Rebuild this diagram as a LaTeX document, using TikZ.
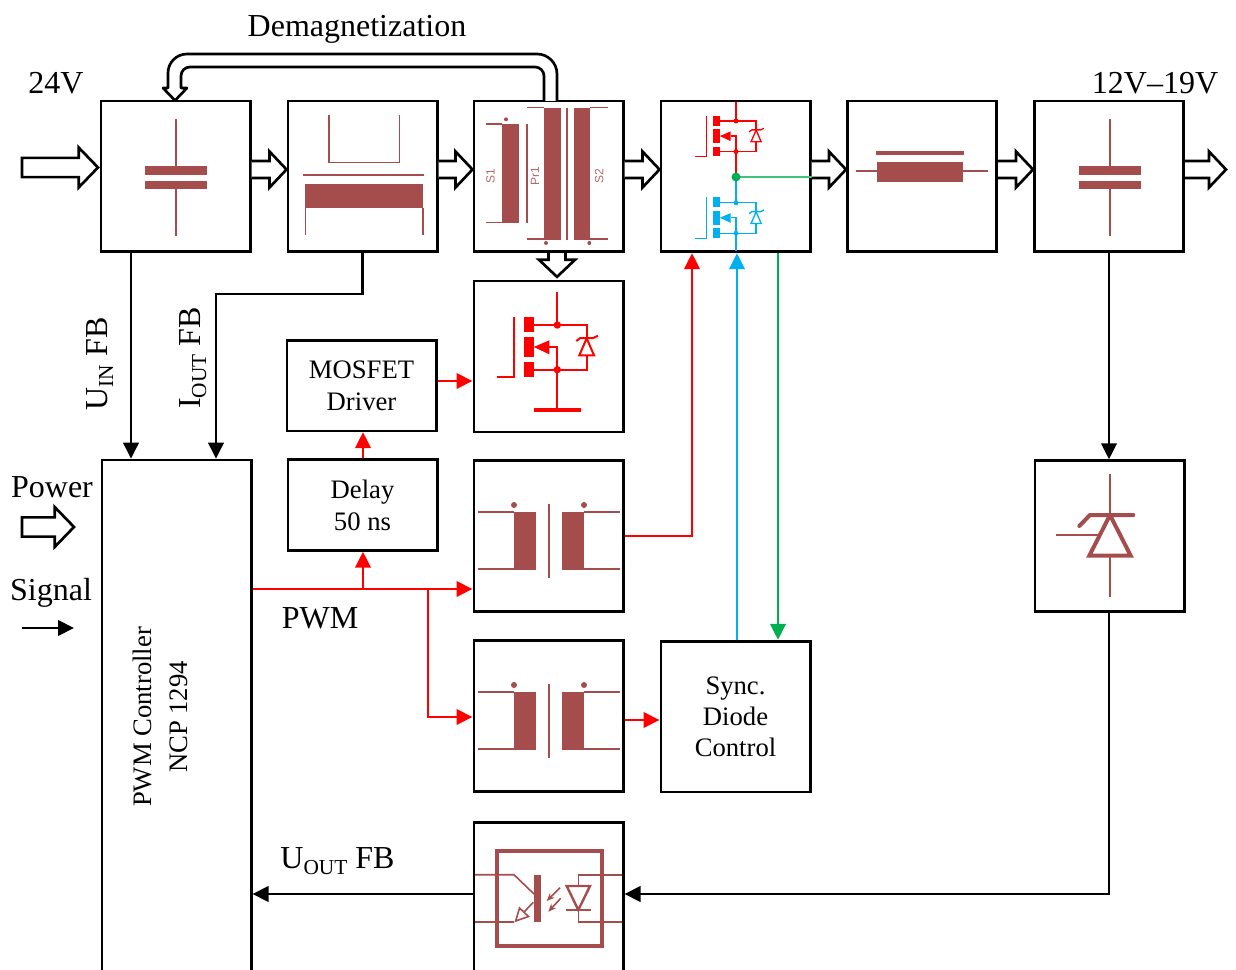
\documentclass[tikz,border=0pt]{standalone}
\usepackage{fontspec}
\setmainfont{Liberation Serif}
\newfontfamily\symfont{Liberation Sans}
\usetikzlibrary{arrows.meta,calc}
\definecolor{sym}{HTML}{A54D4D}
\definecolor{cblue}{HTML}{00B0F0}
\definecolor{cgreen}{HTML}{00B050}
\newcommand\sbs[1]{\raisebox{-0.17em}{\fontsize{16}{16}\selectfont #1}}
\tikzset{
  block/.style={draw=black,line width=2pt,minimum width=112pt,minimum height=113pt,inner sep=0pt,line join=miter},
  tblock/.style={block,minimum height=68pt,align=center,font=\fontsize{20}{24}\selectfont},
  lbl/.style={inner sep=0pt,font=\fontsize{24}{28}\selectfont},
  conn/.style={line width=2.2pt,-{Triangle[length=12pt,width=11.5pt]}},
  hollowline/.style={draw=black,fill=white,line width=2pt,line join=miter,miter limit=10},
  thin/.style={sym,line width=1.2pt},
  thick/.style={sym,line width=3pt},
  symtxt/.style={inner sep=0pt,text=sym!85,font=\fontsize{9}{9}\symfont,rotate=90},
}
% hollow arrow open at its start
\newcommand\hollowarrow[2]{%
  \coordinate (hs) at #1; \coordinate (ht) at #2;
  \coordinate (hb) at ($(ht)!12.75pt!(hs)$);
  \draw[hollowline] ($(hs)!6.4pt!90:(ht)$) -- ($(hb)!6.4pt!90:(ht)$) -- ($(hb)!13.5pt!90:(ht)$) -- (ht)
     -- ($(hb)!13.5pt!-90:(ht)$) -- ($(hb)!6.4pt!-90:(ht)$) -- ($(hs)!6.4pt!-90:(ht)$);
}
% hollow arrow closed at its start
\newcommand\hollowclosed[2]{%
  \coordinate (hs) at #1; \coordinate (ht) at #2;
  \coordinate (hb) at ($(ht)!14.5pt!(hs)$);
  \draw[hollowline] ($(hs)!7.2pt!90:(ht)$) -- ($(hb)!7.2pt!90:(ht)$) -- ($(hb)!15pt!90:(ht)$) -- (ht)
     -- ($(hb)!15pt!-90:(ht)$) -- ($(hb)!7.2pt!-90:(ht)$) -- ($(hs)!7.2pt!-90:(ht)$) -- cycle;
}
% x, y, scale, colour, line width
\newcommand\mosfetsym[5]{%
\begin{scope}[shift={(#1,#2)},scale=#3,color=#4,line width=#5]
  \draw (-60,52.3) -- (-43,52.3) -- (-43,-7.7);
  \fill (-33,-7.7) rectangle (-23.6,7);
  \fill (-33,11.7) rectangle (-23.6,32.3);
  \fill (-33,37.3) rectangle (-23.6,51.7);
  \draw (-23.6,0) -- (29.4,0) -- (29.4,13.3);
  \draw (-23.6,44.7) -- (29.4,44.7) -- (29.4,30.3);
  \fill (0,0) circle (3.7);
  \fill (0,44.7) circle (3.7);
  \fill (-23.6,22) -- (-8,15.3) -- (-8,29.3) -- cycle;
  \draw (-8,22) -- (0,22) -- (0,44.7);
  \draw (22,30.3) -- (36.7,30.3) -- (29.4,13.3) -- cycle;
  \draw (19,16) -- (23,13) -- (36,13) -- (40.7,10.7);
\end{scope}}
\newcommand\capsym[2]{%
  \draw[sym,line width=1.5pt] (#1,119) -- (#1,166) (#1,189) -- (#1,236);
  \fill[sym] ({#1-31},166) rectangle ({#1+31},175);
  \fill[sym] ({#1-31},181) rectangle ({#1+31},189.5);
}
\newcommand\pulsesym[1]{%
\begin{scope}[yshift=#1]
  \draw[thin] (477.7,512) -- (514,512) (477.7,569) -- (514,569);
  \draw[thin] (584,512) -- (620,512) (584,569) -- (620,569);
  \fill[sym] (514,512) rectangle (536,569.5);
  \fill[sym] (561.7,512) rectangle (584,569.5);
  \fill[sym] (514,505) circle (3);
  \fill[sym] (584,505) circle (3);
  \draw[sym,line width=1.6pt] (549,504) -- (549,577.7);
\end{scope}}
\begin{document}
\begin{tikzpicture}[x=0.75pt,y=-0.75pt]
\path[use as bounding box,clip] (0,0) rectangle (1236,970);

% blocks
\node[block] (capin)  at (175.5,176.5) {};
\node[block] (filter) at (362.5,176.5) {};
\node[block] (xfmr)   at (548.5,176.5) {};
\node[block] (mos)    at (735.5,176.5) {};
\node[block] (ind)    at (922,176.5) {};
\node[block] (capout) at (1109,176.5) {};
\node[block] (redmos) at (548.5,356.5) {};
\node[tblock,minimum width=112pt] (driver) at (361.5,385.5) {MOSFET\\Driver};
\node[tblock,minimum width=112pt] (delay) at (362.5,505) {Delay\\50 ns};
\node[block] (pulseA) at (548.5,536) {};
\node[block] (pulseB) at (548.5,716) {};
\node[block,align=center,font=\fontsize{20}{23.2}\selectfont] (sync) at (735.5,716.5) {Sync.\\Diode\\Control};
\node[block] (scr)    at (1109.5,536) {};
\node[block,minimum height=118pt] (opto) at (548.5,901) {};
\node[block,minimum height=385.5pt] (pwm) at (176.5,717) {};
\node[inner sep=0pt,rotate=90,align=center,font=\fontsize{20}{26.5}\selectfont] (pwmtxt) at ($(pwm.center)+(-16,0)$) {PWM Controller\\NCP 1294};

% symbols
\capsym{175.5}{}
\capsym{1110}{}
% filter
\draw[thin] (328.7,115) -- (328.7,162.7) -- (399.3,162.7) -- (399.3,115);
\draw[sym,line width=1.5pt] (303.3,174.7) -- (424.3,174.7);
\fill[sym] (305,184.3) rectangle (423.3,208.3);
\draw[thin] (305.3,208) -- (305.3,235) (422.7,208) -- (422.7,235);
% transformer
\fill[sym] (502.3,124.3) rectangle (518.7,223.3);
\fill[sym] (544.3,107.7) rectangle (561,240);
\fill[sym] (574,107.7) rectangle (590.3,240);
\draw[thin] (486,124.3) -- (502.3,124.3) (486,222.7) -- (502.3,222.7);
\draw[thin] (526.7,124.3) -- (526.7,223.3);
\draw[thin] (527,107.7) -- (544.3,107.7) (527,239.3) -- (544.3,239.3);
\draw[thin] (566.7,107.7) -- (566.7,240);
\draw[thin] (590.3,107.7) -- (607.7,107.7) (590.3,239.3) -- (607.7,239.3);
\fill[sym] (506,119.3) circle (2);
\fill[sym] (546,243) circle (2);
\fill[sym] (589.3,243) circle (2);
\node[symtxt] (ts1) at (490.5,175.7) {S1};
\node[symtxt] (tpr) at (535,175.7) {Pr1};
\node[symtxt] (ts2) at (599.3,175.7) {S2};
% half bridge
\mosfetsym{736}{121}{0.685}{red}{1pt}
\mosfetsym{736}{202.7}{0.685}{cblue}{1pt}
\draw[red,line width=1pt] (736,102) -- (736,121) (736,151.7) -- (736,177);
\draw[cblue,line width=1pt] (736,177) -- (736,202.7) (736,233.4) -- (736,251);
\draw[cgreen!75,line width=1pt] (736,177) -- (mos.east |- 736,177);
\fill[cgreen] (736,177) circle (4.5);
% inductor
\draw[thick] (876,152.7) -- (964,152.7);
\fill[sym] (877.3,161.7) rectangle (963.3,181.7);
\draw[thin] (855.7,171) -- (988.3,171);
% big mosfet
\mosfetsym{557.3}{325}{1}{red}{1.5pt}
\draw[red,line width=1.5pt] (557.3,291.7) -- (557.3,325) (557.3,369.7) -- (557.3,410);
\draw[red,line width=3pt] (534,410) -- (581,410);
% pulse transformers
\pulsesym{0pt}
\pulsesym{-135pt}
% scr
\draw[thin,line width=1.6pt] (1110,474.3) -- (1110,515) (1110,555.7) -- (1110,596.7) (1055.7,535.3) -- (1098.3,535.3);
\draw[sym,line width=3pt,line join=miter] (1110,515) -- (1130.7,555.7) -- (1089.3,555.7) -- cycle;
\draw[sym,line width=3pt,line cap=round] (1079.3,526) -- (1090,515) -- (1133.3,515);
% opto
\draw[sym,line width=3pt] (496.7,850.7) rectangle (601.7,946);
\draw[thin] (475,874.7) -- (514,874.7) -- (534,894);
\draw[thin] (475,922) -- (514,922);
\fill[sym] (534,874.7) rectangle (541,922);
\draw[thin] (533.3,902.3) -- (524,912);
\draw[thin,fill=white] (515.7,921) -- (519.5,908) -- (528.5,916.5) -- cycle;
\draw[thin,-{Stealth[length=6pt,width=5pt]}] (560,887.7) -- (546.7,901);
\draw[thin,-{Stealth[length=6pt,width=5pt]}] (560.7,898.3) -- (548.3,911.7);
\draw[sym,line width=1.8pt] (566.7,886) -- (590,886) -- (578.3,910) -- cycle;
\draw[sym,line width=1.8pt] (566,910) -- (590.7,910);
\draw[thin] (621.7,874.7) -- (578.3,874.7) -- (578.3,886) (578.3,910) -- (578.3,922) -- (621.7,922);

% hollow arrows
\coordinate (inS) at (22,167.5);
\coordinate (inT) at (98,167.5);
\coordinate (hY) at (0,169.5);
\coordinate (outT) at (1226,169.5);
\coordinate (legS) at (22,527);
\coordinate (legT) at (74,527);
\hollowclosed{(inS)}{(inT)}
\hollowarrow{(capin.east |- hY)}{(filter.west |- hY)}
\hollowarrow{(filter.east |- hY)}{(xfmr.west |- hY)}
\hollowarrow{(xfmr.east |- hY)}{(mos.west |- hY)}
\hollowarrow{(mos.east |- hY)}{(ind.west |- hY)}
\hollowarrow{(ind.east |- hY)}{(capout.west |- hY)}
\hollowarrow{(capout.east |- hY)}{(outT)}
\hollowclosed{(legS)}{(legT)}
\coordinate (dnX) at (557,0);
\hollowarrow{(dnX |- xfmr.south)}{($(dnX |- redmos.north)+(0,-3)$)}
% demagnetization
\draw[hollowline,line join=round] (557,101) -- (557,74) arc (0:-90:20) -- (187,54) arc (-90:-180:19) -- (168,88) -- (163,88) -- (175,100.5) -- (187,88) -- (181,88) -- (181,76) arc (180:270:9) -- (535,67) arc (270:360:9) -- (544,101);

% connectors
\draw[conn] (131,252) -- (pwm.north -| 131,0);
\draw[conn] (filter.south) -- (362.5,294) -- (216,294) -- (pwm.north -| 216,0);
\draw[conn] (capout.south -| 1109,0) -- (scr.north -| 1109,0);
\draw[conn] (scr.south -| 1109,0) -- (1109,894) -- (opto.east |- 0,894);
\draw[conn] (opto.west |- 0,894) -- (pwm.east |- 0,894);
\begin{scope}[every path/.style={conn,red}]
\draw (pwm.east |- 0,589) -- (pulseA.west |- 0,589);
\draw (363,589) -- (delay.south -| 363,0);
\draw (428,589) -- (428,717) -- (pulseB.west |- 0,717);
\draw (delay.north -| 363,0) -- (driver.south -| 363,0);
\draw (driver.east |- 0,381) -- (redmos.west |- 0,381);
\draw (pulseA.east |- 0,536) -- (692,536) -- (mos.south -| 692,0);
\draw (pulseB.east |- 0,720) -- (sync.west |- 0,720);
\end{scope}
\draw[conn,cblue] (sync.north -| 737,0) -- (mos.south -| 737,0);
\draw[conn,cgreen] (mos.south -| 778,0) -- (sync.north -| 778,0);

% labels
\node[lbl] (tdemag) at (357,29.5) {Demagnetization};
\node[lbl] (t24) at (56,83) {24V};
\node[lbl] (t12) at (1155,83) {12V--19V};
\node[lbl] (tpower) at (52,487) {Power};
\node[lbl] (tsignal) at (51,593) {Signal};
\coordinate (sigS) at (22,628);
\coordinate (sigT) at (74,628);
\draw[conn] (sigS) -- (sigT);
\node[lbl] (tpwm) at (320,618) {PWM};
\node[lbl] (tuout) at (337.5,861) {U\sbs{OUT} FB};
\node[lbl,rotate=90] (tuin) at (100,364) {U\sbs{IN} FB};
\node[lbl,rotate=90] (tiout) at (193,358) {I\sbs{OUT} FB};
\end{tikzpicture}
\end{document}
